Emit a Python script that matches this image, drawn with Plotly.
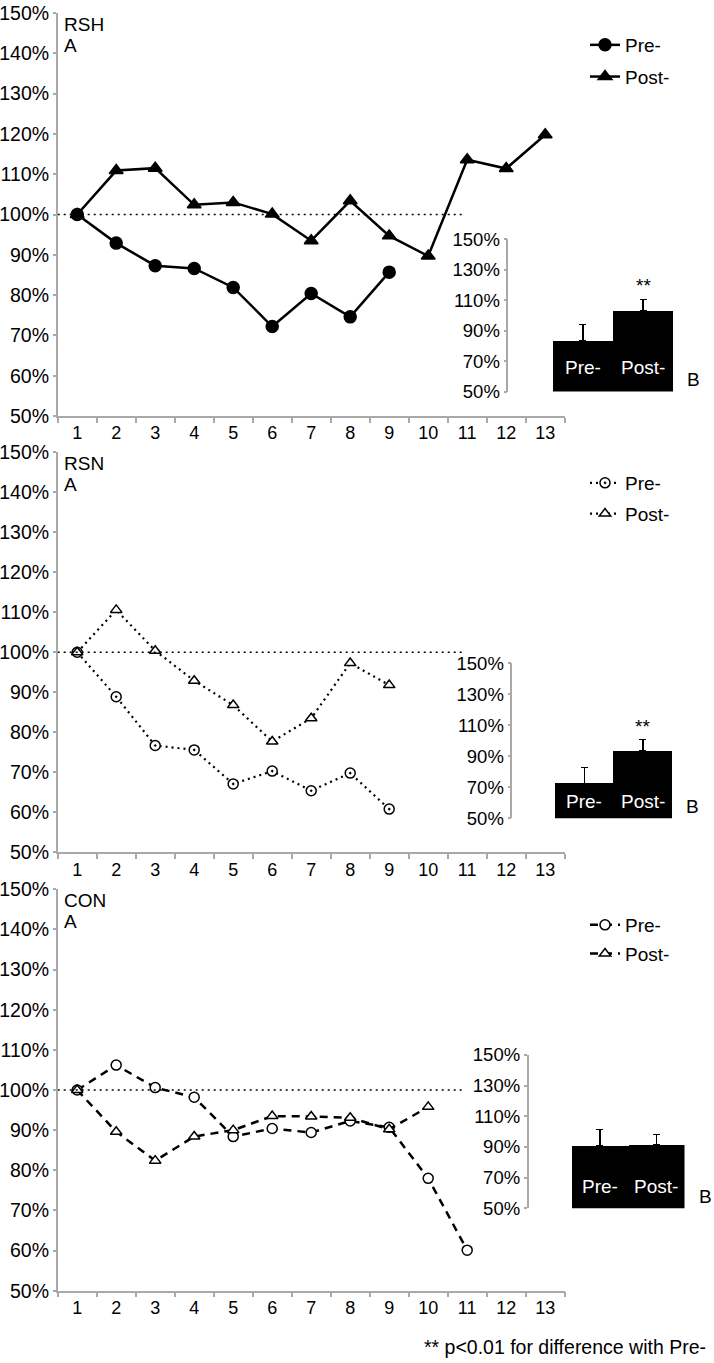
import plotly.graph_objects as go

# ---------------- data ----------------
sessions = [str(i) for i in range(1, 14)]

rsh_pre = [100, 92.9, 87.3, 86.6, 81.9, 72.2, 80.4, 74.6, 85.7]
rsh_post = [100, 110.9, 111.5, 102.4, 103.0, 100.1, 93.5, 103.4, 94.7, 89.7, 113.6, 111.4, 119.8]
rsn_pre = [100, 88.9, 76.7, 75.6, 67.1, 70.3, 65.4, 69.8, 60.8]
rsn_post = [100, 110.6, 100.4, 92.9, 86.8, 77.7, 83.5, 97.3, 91.8]
con_pre = [100, 106.2, 100.6, 98.2, 88.4, 90.4, 89.4, 92.3, 90.7, 78.0, 60.1]
con_post = [100, 89.6, 82.4, 88.4, 90.0, 93.5, 93.4, 93.1, 90.2, 95.8]

bar_labels = ["Pre-", "Post-"]
rsh_bar = [83.1, 102.8]
rsh_err = [10.8, 7.8]
rsn_bar = [72.5, 93.4]
rsn_err = [10.4, 7.4]
con_bar = [90.6, 91.3]
con_err = [10.9, 7.0]
rsh_sig = ["", "**"]
rsn_sig = ["", "**"]
con_sig = ["", ""]
group_names = ["RSH", "RSN", "CON"]
main_ticks = list(range(50, 151, 10))
inset_ticks = list(range(50, 151, 20))
main_ticktext = [f"{v}%" for v in main_ticks]
inset_ticktext = [f"{v}%" for v in inset_ticks]

FONT = "Liberation Sans, Arial, sans-serif"
W, H = 714, 1363
AXC = "#a9a9a9"


def px(x):
    return x / W


def py(y):
    return 1 - y / H


fig = go.Figure()

panels = [
    dict(pre=rsh_pre, post=rsh_post, dash="solid", pre_sym="circle", post_sym="triangle-up",
         pre_col="black", post_col="black", msize=12, bar=rsh_bar, err=rsh_err, sig=rsh_sig,
         leg="legend", lab_y=66),
    dict(pre=rsn_pre, post=rsn_post, dash="2px,4px", pre_sym="circle-dot", post_sym="triangle-up",
         pre_col="white", post_col="white", msize=10, bar=rsn_bar, err=rsn_err, sig=rsn_sig,
         leg="legend2", lab_y=61),
    dict(pre=con_pre, post=con_post, dash="8px,6px", pre_sym="circle", post_sym="triangle-up",
         pre_col="white", post_col="white", msize=10, bar=con_bar, err=con_err, sig=con_sig,
         leg="legend3", lab_y=64),
]

# main domains (pixel coordinates of 150% and 50%)
main_y = [(13, 416), (452.3, 852.3), (889.3, 1290.7)]
main_x = (57.7, 564.7)
# inset geometry: axis x, bars right x, range start, top y, bottom y
insets = [
    (508.3, 673.3, -1.239, 239.3, 391.5),
    (512.3, 672.3, -1.226, 663.3, 818.3),
    (528.6, 684.5, -1.264, 1055.0, 1208.3),
]

annotations = []
shapes = []

for i, p in enumerate(panels):
    k = i + 1
    xa = "x" if k == 1 else f"x{k}"
    ya = "y" if k == 1 else f"y{k}"
    for name, vals, sym, col in [("Pre-", p["pre"], p["pre_sym"], p["pre_col"]),
                                 ("Post-", p["post"], p["post_sym"], p["post_col"])]:
        fig.add_trace(go.Scatter(
            x=sessions[:len(vals)], y=vals, mode="lines+markers", name=name,
            xaxis=xa, yaxis=ya, legend=p["leg"], legendgroup=f"{k}{name}",
            line=dict(color="black", width=2.5 if k != 2 else 2.2, dash=p["dash"]),
            marker=dict(symbol=sym, size=p["msize"], color=col,
                        line=dict(color="black", width=1.5)),
        ))
    # inset bars
    ka = k + 3
    fig.add_trace(go.Bar(
        x=[0, 1], y=p["bar"], width=[1, 1], marker=dict(color="black", line=dict(width=0)),
        error_y=dict(type="data", array=p["err"], arrayminus=[0, 0], symmetric=False,
                     color="black", thickness=1.5, width=3.5),
        xaxis=f"x{ka}", yaxis=f"y{ka}", showlegend=False,
    ))
    y0, y1 = main_y[i]
    fig.layout[f"xaxis{'' if k == 1 else k}"] = dict(
        domain=[px(main_x[0]), px(main_x[1])], anchor=ya, type="category",
        categoryorder="array", categoryarray=sessions, automargin=False,
        range=[-0.5, 12.5], tickson="boundaries", ticks="outside", ticklen=5,
        tickcolor=AXC, tickwidth=1.5, showline=True, linecolor=AXC, linewidth=1.5,
        showgrid=False, zeroline=False, tickfont=dict(size=18, color="black"),
    )
    fig.layout[f"yaxis{'' if k == 1 else k}"] = dict(
        domain=[py(y1), py(y0)], anchor=xa, range=[50, 150], tickmode="array",
        tickvals=main_ticks, ticktext=main_ticktext, automargin=False,
        ticks="outside", ticklen=3, tickcolor=AXC, tickwidth=1.5,
        showline=True, linecolor=AXC, linewidth=1.5, showgrid=False, zeroline=False,
        tickfont=dict(size=19.5, color="black"),
    )
    ax0, ax1, rs, iy0, iy1 = insets[i]
    fig.layout[f"xaxis{ka}"] = dict(
        domain=[px(ax0), px(ax1)], anchor=f"y{ka}", range=[rs, 1.5], visible=False,
        automargin=False,
    )
    fig.layout[f"yaxis{ka}"] = dict(
        domain=[py(iy1), py(iy0)], anchor=f"x{ka}", range=[50, 150], tickmode="array",
        tickvals=inset_ticks, ticktext=inset_ticktext, automargin=False,
        ticks="outside", ticklen=3, tickcolor=AXC, tickwidth=1.5,
        showline=True, linecolor=AXC, linewidth=1.5, showgrid=False, zeroline=False,
        tickfont=dict(size=18.5, color="black"),
    )
    # 100% reference dotted line
    shapes.append(dict(type="line", xref=xa, yref=ya, x0=-0.5, x1=9.87, y0=100, y1=100,
                       line=dict(color="black", width=1.5, dash="2px,4px")))
    # panel labels
    annotations.append(dict(text=group_names[i], xref="paper", yref="paper",
                            x=px(62), y=py(y0 + 11), xanchor="left", yanchor="middle",
                            showarrow=False, font=dict(size=19, color="black")))
    annotations.append(dict(text="A", xref="paper", yref="paper",
                            x=px(62), y=py(y0 + 32), xanchor="left", yanchor="middle",
                            showarrow=False, font=dict(size=19, color="black")))
    # bar labels inside bars
    for j, lab in enumerate(bar_labels):
        annotations.append(dict(text=lab, xref=f"x{ka}", yref=f"y{ka}", x=j, y=p["lab_y"],
                                showarrow=False, font=dict(size=19, color="white")))
        if p["sig"][j]:
            annotations.append(dict(text=p["sig"][j], xref=f"x{ka}", yref=f"y{ka}", x=j,
                                    y=p["bar"][j] + p["err"][j], yanchor="bottom", yshift=1,
                                    showarrow=False, font=dict(size=19, color="black")))
    annotations.append(dict(text="B", xref="paper", yref="paper", x=px(ax1 + 12),
                            y=py(iy1 - 12), xanchor="left", yanchor="middle",
                            showarrow=False, font=dict(size=19, color="black")))

annotations.append(dict(text="** p<0.01 for difference with Pre-", xref="paper", yref="paper",
                        x=px(708), y=py(1347), xanchor="right", yanchor="middle",
                        showarrow=False, font=dict(size=19.5, color="black")))

leg_common = dict(xanchor="left", yanchor="top", bgcolor="rgba(0,0,0,0)",
                  font=dict(size=19, color="black"), itemwidth=30)
fig.update_layout(
    width=W, height=H, margin=dict(l=0, r=0, t=0, b=0, autoexpand=False),
    paper_bgcolor="white", plot_bgcolor="white",
    font=dict(family=FONT, color="black"),
    showlegend=True,
    legend=dict(x=px(585), y=py(26), tracegroupgap=4, **leg_common),
    legend2=dict(x=px(585), y=py(464), tracegroupgap=3, **leg_common),
    legend3=dict(x=px(585), y=py(906), tracegroupgap=1, **leg_common),
    annotations=annotations, shapes=shapes, bargap=0,
)

fig.write_html("out.html", config={"displayModeBar": False},
               post_script="document.body.style.margin='0px';")
